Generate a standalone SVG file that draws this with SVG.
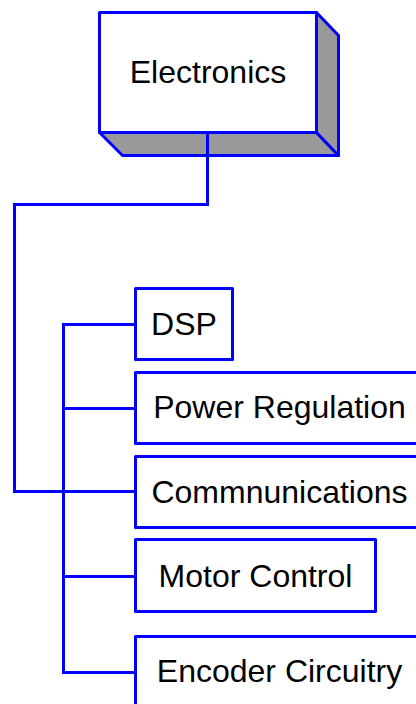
<svg xmlns="http://www.w3.org/2000/svg" width="416" height="704" viewBox="0 0 416 704">
<style>
.box{fill:#ffffff;stroke:#0000ff;stroke-width:3;stroke-linejoin:round}
.side{fill:#999999;stroke:#0000ff;stroke-width:3;stroke-linejoin:round}
.lbl{font-family:"Liberation Sans",Arial,sans-serif;font-size:32px;fill:#000000;text-anchor:middle}
.conn{fill:none;stroke:#0000ff;stroke-width:3;stroke-linejoin:miter}
</style>
<rect width="416" height="704" fill="#ffffff"/>
<g transform="translate(0.5,0.5)">
<g id="node-electronics">
<polygon class="side" points="99,132 122,155 338,155 316,132"/>
<polygon class="side" points="316,12 338,35 338,155 316,132"/>
<rect class="box" x="99" y="12" width="217" height="120"/>
<text class="lbl" x="207.5" y="82">Electronics</text>
</g>
<g id="connectors">
<polyline class="conn" points="207,132 207,204 14,204 14,491 135,491"/>
<polyline class="conn" points="135,324 63,324 63,672 135,672"/>
<line class="conn" x1="63" y1="408" x2="135" y2="408"/>
<line class="conn" x1="63" y1="491" x2="135" y2="491"/>
<line class="conn" x1="63" y1="576" x2="135" y2="576"/>
</g>
<g id="node-dsp">
<rect class="box" x="135" y="288" width="97" height="71"/>
<text class="lbl" x="183.5" y="334">DSP</text>
</g>
<g id="node-power">
<rect class="box" x="135" y="372" width="288" height="71"/>
<text class="lbl" x="279" y="417">Power Regulation</text>
</g>
<g id="node-comm">
<rect class="box" x="135" y="456" width="288" height="71"/>
<text class="lbl" x="279" y="502">Commnunications</text>
</g>
<g id="node-motor">
<rect class="box" x="135" y="539" width="240" height="72"/>
<text class="lbl" x="255" y="586">Motor Control</text>
</g>
<g id="node-encoder">
<rect class="box" x="135" y="636" width="288" height="90"/>
<text class="lbl" x="279" y="681">Encoder Circuitry</text>
</g>
</g>
</svg>
